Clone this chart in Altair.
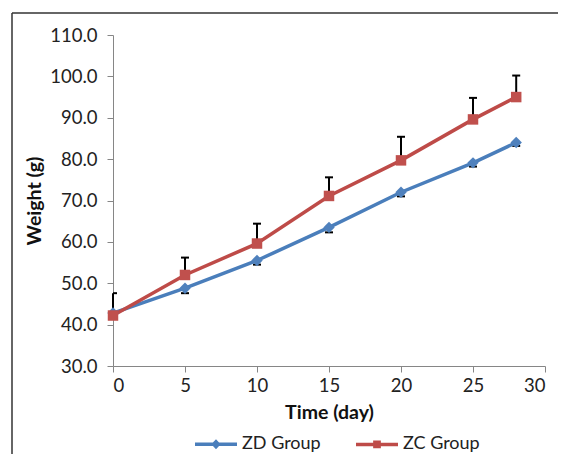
import altair as alt
import pandas as pd

days = [0, 5, 10, 15, 20, 25, 28]
groups = ["ZD Group", "ZC Group"]
zd_weight = [42.8, 48.8, 55.5, 63.5, 72.0, 79.1, 84.0]
zd_err = [0.3, 1.2, 1.0, 1.2, 1.0, 0.9, 0.8]
zc_weight = [42.2, 52.0, 59.6, 71.1, 79.7, 89.6, 95.0]
zc_err = [5.4, 4.2, 4.8, 4.5, 5.7, 5.2, 5.2]
y_ticks = [30, 40, 50, 60, 70, 80, 90, 100, 110]
x_ticks = [0, 5, 10, 15, 20, 25, 30]

line_colors = ["#4A7EBB", "#BE4B48"]
marker_colors = ["#4F81BD", "#C0504D"]
FONT = "Lato"

rows = []
for d, w, e in zip(days, zd_weight, zd_err):
    rows.append({"day": d, "group": "ZD Group", "weight": w, "end": w - e})
for d, w, e in zip(days, zc_weight, zc_err):
    rows.append({"day": d, "group": "ZC Group", "weight": w, "end": w + e})
df = pd.DataFrame(rows)

PATH_D = "M-1,0H1M-0.11,0L0,-0.12L0.11,0L0,0.12Z"
PATH_S = "M-1,0H1M-0.1,-0.1H0.1V0.1H-0.1Z"

xs = alt.Scale(domain=[0, 30], nice=False)
ys = alt.Scale(domain=[30, 110], nice=False, zero=False)
cs = alt.Scale(domain=groups, range=line_colors)

x_axis = alt.Axis(values=x_ticks, title="Time (day)", grid=False, tickSize=6,
                  labelPadding=4, titleY=46, titleBaseline="middle")
y_axis = alt.Axis(values=y_ticks, format=".1f", title="Weight (g)", grid=False,
                  tickSize=6, labelPadding=10, titleX=-79, titleY=165.5,
                  titleBaseline="middle", titleAlign="center", titleAngle=-90)

base = alt.Chart(df)

err_rule = base.mark_rule(color="black", strokeWidth=2).encode(
    x=alt.X("day:Q", scale=xs, axis=x_axis),
    y=alt.Y("weight:Q", scale=ys, axis=y_axis),
    y2="end:Q",
)
err_cap = base.mark_rule(color="black", strokeWidth=2, xOffset=-4, x2Offset=4, clip=True).encode(
    x=alt.X("day:Q", scale=xs),
    x2="day:Q",
    y=alt.Y("end:Q", scale=ys),
)

leg = alt.Legend(title=" ", titleOrient="left", titlePadding=80, orient="bottom",
                 direction="horizontal", offset=-1, symbolSize=1764, symbolStrokeWidth=3.5,
                 labelOffset=3, columnPadding=28, labelFont=FONT, labelFontSize=18,
                 labelColor="#222222", titleFont=FONT, titleFontSize=18)

lines = base.mark_line(strokeWidth=3.5).encode(
    x=alt.X("day:Q", scale=xs),
    y=alt.Y("weight:Q", scale=ys),
    stroke=alt.Stroke("group:N", scale=cs, legend=leg),
    shape=alt.Shape("group:N", scale=alt.Scale(domain=groups, range=[PATH_D, PATH_S]), legend=leg),
)

pts_zd = base.transform_filter(alt.datum.group == "ZD Group").mark_point(
    filled=True, opacity=1, shape="diamond", size=130, color=marker_colors[0]
).encode(x=alt.X("day:Q", scale=xs), y=alt.Y("weight:Q", scale=ys))
pts_zc = base.transform_filter(alt.datum.group == "ZC Group").mark_point(
    filled=True, opacity=1, shape="square", size=110, color=marker_colors[1]
).encode(x=alt.X("day:Q", scale=xs), y=alt.Y("weight:Q", scale=ys))

frame_df = pd.DataFrame({"a": [0]})
frame_top = alt.Chart(frame_df).mark_rule(color="#333333", strokeWidth=1.5).encode(
    x=alt.value(-101), x2=alt.value(460), y=alt.value(-22)
)
frame_left = alt.Chart(frame_df).mark_rule(color="#333333", strokeWidth=1.5).encode(
    x=alt.value(-101), y=alt.value(-22), y2=alt.value(440)
)

chart = alt.layer(frame_top, frame_left, err_rule, err_cap, lines, pts_zd, pts_zc).properties(
    width=432, height=331,
    autosize=alt.AutoSizeParams(type="none"),
    padding={"left": 105, "top": 27, "right": 13, "bottom": 88},
    background="white",
).configure_view(stroke=None).configure_axis(
    domainColor="#868686", tickColor="#868686", domainWidth=1, tickWidth=1,
    labelFont=FONT, labelFontSize=18.5, labelColor="#222222",
    titleFont=FONT, titleFontSize=19.5, titleFontWeight="bold", titleColor="#111111",
)

chart.save("out.html", embed_options={"renderer": "svg", "actions": False})
